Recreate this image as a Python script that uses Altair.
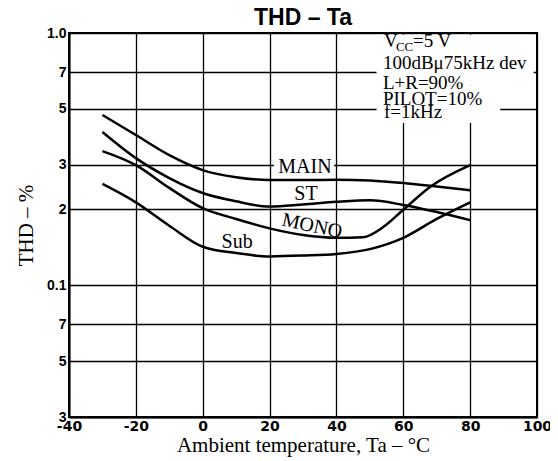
import altair as alt
import pandas as pd

# ---- data ----
main_temps = [-30, -20, -10, 0, 10, 20, 30, 40, 50, 60, 70, 80]
main_thd = [0.473, 0.394, 0.328, 0.286, 0.268, 0.261, 0.261, 0.262, 0.260, 0.254, 0.246, 0.238]
st_temps = [-30, -20, -10, 0, 10, 20, 30, 40, 50, 60, 70, 80]
st_thd = [0.405, 0.319, 0.266, 0.232, 0.215, 0.205, 0.209, 0.214, 0.217, 0.208, 0.195, 0.181]
mono_temps = [-30, -20, -10, 0, 10, 20, 30, 40, 48, 54, 60, 68, 80]
mono_thd = [0.340, 0.299, 0.243, 0.202, 0.183, 0.168, 0.158, 0.154, 0.155, 0.170, 0.199, 0.245, 0.299]
sub_temps = [-30, -20, -10, 0, 10, 20, 30, 40, 50, 60, 70, 80]
sub_thd = [0.252, 0.213, 0.172, 0.142, 0.134, 0.130, 0.131, 0.133, 0.139, 0.154, 0.183, 0.213]

x_ticks = [-40, -20, 0, 20, 40, 60, 80, 100]
y_ticks = [0.03, 0.05, 0.07, 0.1, 0.2, 0.3, 0.5, 0.7, 1.0]

series_names = ["MAIN", "ST", "MONO", "Sub"]
series_temps = [main_temps, st_temps, mono_temps, sub_temps]
series_vals = [main_thd, st_thd, mono_thd, sub_thd]

# curve labels (position in data units)
curve_labels = ["MAIN", "ST", "MONO", "Sub"]
curve_label_x = [30.6, 30.9, 32.7, 10.3]
curve_label_y = [0.294, 0.230, 0.1717, 0.148]
curve_label_angle = [0, 0, 12, 0]

# conditions text block
info_text = ["100dB\u03bc75kHz dev", "L+R=90%", "PILOT=10%", "f=1kHz"]
info_x = [53.9, 53.9, 53.9, 54.2]
info_y = [0.760, 0.633, 0.547, 0.486]

rows = []
for name, ts, vals in zip(series_names, series_temps, series_vals):
    for t, v in zip(ts, vals):
        rows.append({"temp": t, "thd": v, "series": name})
df = pd.DataFrame(rows)

xscale = alt.Scale(domain=[-40, 100], nice=False, zero=False)
yscale = alt.Scale(type="log", domain=[0.03, 1.0], nice=False)

xaxis = alt.Axis(values=x_ticks, grid=True, title="Ambient temperature, Ta \u2013 \u00b0C", labelFlush=False,
                 labelExpr="datum.value == -40 ? '\u00a0\u00a0\u00a0-40' : (datum.value == 100 ? '100\u00a0' : (datum.value < 0 ? '-' + abs(datum.value) : '' + datum.value))")
yaxis = alt.Axis(values=y_ticks, grid=True, title="THD \u2013 %", labelFlush=False,
                 labelExpr="datum.value == 1 ? '1.0' : (datum.value == 0.1 ? '0.1' : (datum.value < 0.1 ? format(datum.value*100, '.0f') : format(datum.value*10, '.0f')))")


def X(f):
    return alt.X(f, scale=xscale, axis=xaxis)


def Y(f):
    return alt.Y(f, scale=yscale, axis=yaxis)


lines = alt.Chart(df).mark_line(color="black", strokeWidth=2.5, interpolate="monotone").encode(
    x=X("temp:Q"), y=Y("thd:Q"), detail="series:N",
)

# white patches behind texts
patch_df = pd.DataFrame({"x1": [52.0, 52.0, 21.3], "x2": [99.0, 89.0, 39.3],
                         "y1": [0.62, 0.44, 0.272], "y2": [0.985, 0.62, 0.316]})
patches = alt.Chart(patch_df).mark_rect(color="white").encode(
    x=X("x1:Q"), x2="x2:Q", y=Y("y1:Q"), y2="y2:Q",
)

lab_df = pd.DataFrame({"x": curve_label_x, "y": curve_label_y, "t": curve_labels, "a": curve_label_angle})
labs = alt.Chart(lab_df).mark_text(font="Liberation Serif", fontSize=20, color="black", baseline="middle").encode(
    x=X("x:Q"), y=Y("y:Q"), text="t:N", angle=alt.Angle("a:Q", scale=None),
)

info_df = pd.DataFrame({"x": info_x, "y": info_y, "t": info_text})
info = alt.Chart(info_df).mark_text(font="Liberation Serif", fontSize=19, color="black", align="left", baseline="middle").encode(
    x=X("x:Q"), y=Y("y:Q"), text="t:N",
)

vcc_df = pd.DataFrame({"x": [54.2, 62.9], "y": [0.930, 0.930], "t": ["V", "=5 V"]})
vcc = alt.Chart(vcc_df).mark_text(font="Liberation Serif", fontSize=19, color="black", align="left", baseline="middle").encode(
    x=X("x:Q"), y=Y("y:Q"), text="t:N",
)
cc_df = pd.DataFrame({"x": [57.8], "y": [0.880], "t": ["CC"]})
cc = alt.Chart(cc_df).mark_text(font="Liberation Serif", fontSize=13, color="black", align="left", baseline="middle").encode(
    x=X("x:Q"), y=Y("y:Q"), text="t:N",
)

chart = alt.layer(lines, patches, labs, info, vcc, cc).properties(
    width=468, height=384,
    title=alt.Title("THD \u2013 Ta", font="Liberation Sans", fontSize=23, fontWeight="bold",
                    color="black", anchor="middle", offset=2, dy=6),
    padding={"left": 61, "top": 25, "right": 13, "bottom": 45},
    autosize=alt.AutoSizeParams(type="none"),
).configure_view(
    stroke="black", strokeWidth=2
).configure_axis(
    domainColor="black", domainWidth=2,
    gridColor="black", gridWidth=1.3, gridOpacity=1,
    tickSize=0, labelColor="black", titleColor="black",
).configure_axisX(
    labelFont="DejaVu Sans", labelFontWeight="bold", labelFontSize=14, labelPadding=2,
    titleFont="Liberation Serif", titleFontSize=21, titleFontWeight="normal", titlePadding=1,
).configure_axisY(
    labelFont="Liberation Sans", labelFontWeight="bold", labelFontSize=14, labelPadding=3,
    titleFont="Liberation Serif", titleFontSize=21, titleFontWeight="normal", titlePadding=10,
)

chart.save("out.html", embed_options={"renderer": "svg", "actions": False})
